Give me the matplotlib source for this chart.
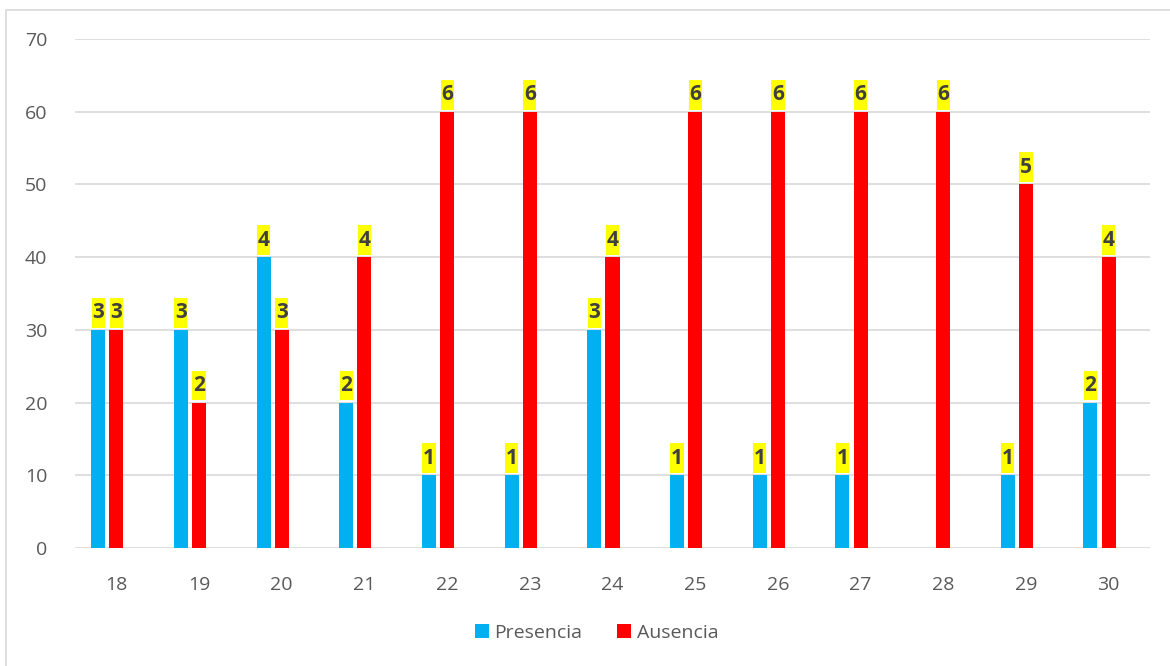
import matplotlib
matplotlib.use("Agg")
import matplotlib.pyplot as plt
from matplotlib.patches import Rectangle, Patch
import numpy as np

# data
categories = ["18", "19", "20", "21", "22", "23", "24", "25", "26", "27", "28", "29", "30"]
presencia = [30, 30, 40, 20, 10, 10, 30, 10, 10, 10, 0, 10, 20]
ausencia = [30, 20, 30, 40, 60, 60, 40, 60, 60, 60, 60, 50, 40]
presencia_labels = ["3", "3", "4", "2", "1", "1", "3", "1", "1", "1", "", "1", "2"]
ausencia_labels = ["3", "2", "3", "4", "6", "6", "4", "6", "6", "6", "6", "5", "4"]

BLUE = "#00B0F0"
RED = "#FF0000"
GRID = "#D9D9D9"
TEXT = "#595959"

plt.rcParams["font.family"] = ["Open Sans", "DejaVu Sans"]

fig = plt.figure(figsize=(11.7, 6.66), dpi=100)
fig.patch.set_facecolor("white")
# light outer chart border
fig.patches.append(Rectangle((6 / 1170, -0.01), 1.0, 1 - 10 / 666 + 0.01,
                             transform=fig.transFigure, fill=False,
                             edgecolor=GRID, linewidth=1.2))

ax = fig.add_axes([75 / 1170, 118 / 666, 1075 / 1170, 509 / 666])
x = np.arange(len(categories))
width = 0.17
offset = 0.22

ax.bar(x - offset, presencia, width, color=BLUE, zorder=2)
ax.bar(x, ausencia, width, color=RED, zorder=2)

# yellow data label boxes (tall and narrow, like the Excel labels)
box_w, box_h, gap = 0.16, 4.1, 0.3


def add_labels(xs, vals, texts):
    for xi, v, t in zip(xs, vals, texts):
        if not t:
            continue
        ax.add_patch(Rectangle((xi - box_w / 2, v + gap), box_w, box_h,
                               facecolor="#FFFF00", edgecolor="none", zorder=3))
        ax.text(xi, v + gap + box_h / 2, t, ha="center", va="center",
                fontsize=15, fontweight="bold", color="#404040", zorder=4)


add_labels(x - offset, presencia, presencia_labels)
add_labels(x, ausencia, ausencia_labels)

ax.set_xlim(-0.5, len(categories) - 0.5)
ax.set_ylim(0, 70)
ax.set_yticks(range(0, 71, 10))
ax.set_xticks(x)
ax.set_xticklabels(categories)
ax.yaxis.grid(True, color=GRID, linewidth=1.2, zorder=0)
ax.set_axisbelow(True)
for s in ax.spines.values():
    s.set_visible(False)
ax.tick_params(axis="both", length=0, labelsize=14, colors=TEXT)
ax.tick_params(axis="y", pad=20)
ax.tick_params(axis="x", pad=20)

handles = [Patch(facecolor=BLUE), Patch(facecolor=RED)]
fig.legend(handles, ["Presencia", "Ausencia"], loc="center",
           bbox_to_anchor=(0.51, 1 - 633 / 666), ncol=2, frameon=False,
           fontsize=14, labelcolor=TEXT, handlelength=0.7, handleheight=0.7,
           handletextpad=0.3, columnspacing=1.8)

fig.savefig("out.png", dpi=100, facecolor="white")
